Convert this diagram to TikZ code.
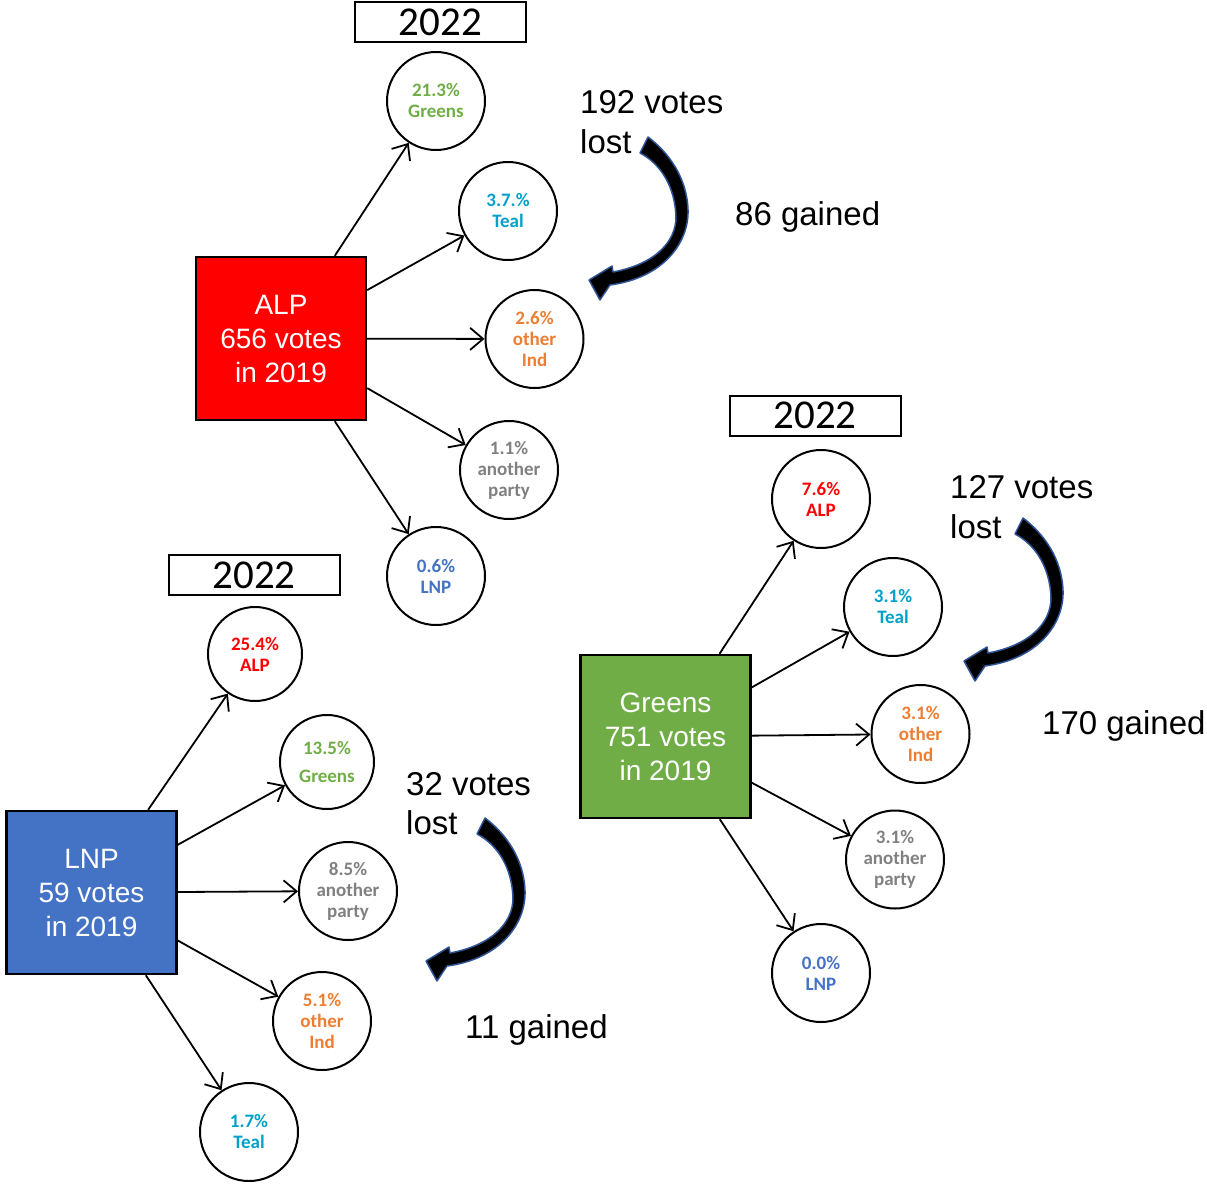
\documentclass[tikz,border=0pt]{standalone}
\usepackage{fontspec}
\setmainfont{Liberation Sans}
\newfontfamily\carlito{Carlito}
\usetikzlibrary{arrows.meta}
\definecolor{alpred}{RGB}{255,0,0}
\definecolor{grnfill}{RGB}{112,173,71}
\definecolor{lnpblue}{RGB}{68,114,196}
\definecolor{tealc}{RGB}{0,160,200}
\definecolor{orng}{RGB}{237,125,49}
\definecolor{gry}{RGB}{128,128,128}
\definecolor{arrowedge}{RGB}{47,85,151}
\tikzset{
  party/.style={draw=black, line width=2.4pt, minimum width=170pt, minimum height=163pt, inner sep=0pt, text=white, align=center, font=\fontsize{28}{34}\selectfont},
  res/.style={circle, draw=black, line width=2pt, minimum size=98pt, inner sep=0pt, align=center, font=\carlito\bfseries\fontsize{19}{21}\selectfont},
  year/.style={draw=black, line width=2pt, minimum width=171pt, minimum height=40pt, inner sep=0pt, font=\carlito\fontsize{41}{41}\selectfont},
  flow/.style={line width=1.8pt, -{Straight Barb[length=13pt,width=22pt]}},
  lbl/.style={anchor=base west, inner sep=0pt, font=\fontsize{33}{40}\selectfont},
  bendarrow/.pic={
    \path[fill=black, draw=arrowedge, line width=1.5pt, line join=round]
      (0,0) .. controls (20,15) and (39,40) .. (40,73)
      .. controls (41,106) and (15,141) .. (-38,148)
      -- (-48,163) -- (-59,143) -- (-36,129) -- (-35,135)
      .. controls (8,127) and (28,104) .. (28,80)
      .. controls (27,50) and (13,27) .. (-8,16) -- cycle;
  }
}
\begin{document}
\begin{tikzpicture}[x=1pt,y=-1pt]
\useasboundingbox (0,0) rectangle (1207,1183);

% ---------------- ALP group ----------------
\node[year] (yA) at (440.5,22) {2022};
\node[party, fill=alpred] (alp) at (281,338.5) {ALP\\656 votes\\in 2019};
\node[res, text=grnfill] (a1) at (436,101) {21.3\%\\Greens};
\node[res, text=tealc] (a2) at (508,211) {3.7.\%\\Teal};
\node[res, text=orng] (a3) at (534.5,339) {2.6\%\\other\\Ind};
\node[res, text=gry] (a4) at (509,470) {1.1\%\\another\\party};
\node[res, text=lnpblue] (a5) at (436,576) {0.6\%\\LNP};
\foreach \c in {a1,a2,a3,a4,a5} \draw[flow] (alp) -- (\c);
\pic at (648,137) {bendarrow};
\node[lbl] (tA1) at (580,113) {192 votes};
\node[lbl] (tA2) at (580,153) {lost};
\node[lbl] (tA3) at (735,225) {86 gained};

% ---------------- Greens group ----------------
\node[year] (yG) at (815,415.5) {2022};
\node[party, fill=grnfill] (grn) at (665.5,736.5) {Greens\\751 votes\\in 2019};
\node[res, text=alpred] (g1) at (821,499) {7.6\%\\ALP};
\node[res, text=tealc] (g2) at (893,607) {3.1\%\\Teal};
\node[res, text=orng] (g3) at (920.5,734) {3.1\%\\other\\Ind};
\node[res, text=gry] (g4) at (895,859.5) {3.1\%\\another\\party};
\node[res, text=lnpblue] (g5) at (821,973) {0.0\%\\LNP};
\foreach \c in {g1,g2,g3,g4,g5} \draw[flow] (grn) -- (\c);
\pic at (1023,518) {bendarrow};
\node[lbl] (tG1) at (950,498) {127 votes};
\node[lbl] (tG2) at (950,538) {lost};
\node[lbl] (tG3) at (1042,734) {170 gained};

% ---------------- LNP group ----------------
\node[year] (yL) at (254,575) {2022};
\node[party, fill=lnpblue] (lnp) at (91.5,892.5) {LNP\\59 votes\\in 2019};
\node[res, text=alpred, minimum size=94pt] (l1) at (255,654) {25.4\%\\ALP};
\node[res, text=grnfill, minimum size=94pt] (l2) at (327,762) {13.5\%\\[7pt]Greens};
\node[res, text=gry] (l3) at (348,891) {8.5\%\\another\\party};
\node[res, text=orng] (l4) at (322,1021) {5.1\%\\other\\Ind};
\node[res, text=tealc] (l5) at (249,1132) {1.7\%\\Teal};
\foreach \c in {l1,l2,l3,l4,l5} \draw[flow] (lnp) -- (\c);
\pic at (485,818) {bendarrow};
\node[lbl] (tL1) at (406,795) {32 votes};
\node[lbl] (tL2) at (406,834) {lost};
\node[lbl] (tL3) at (465,1038) {11 gained};
\end{tikzpicture}
\end{document}
